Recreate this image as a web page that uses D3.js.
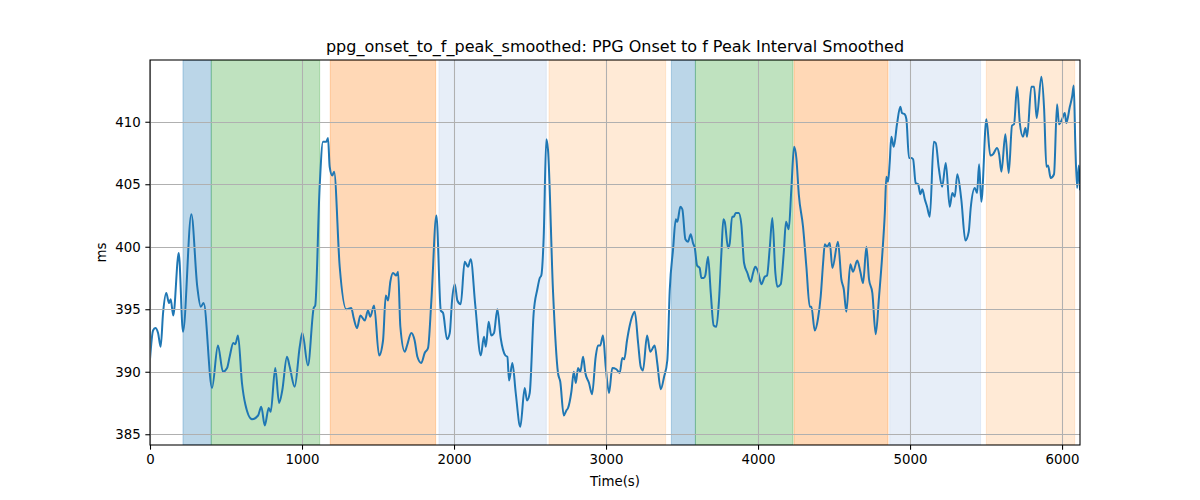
<!DOCTYPE html>
<html>
<head>
<meta charset="utf-8">
<script src="https://cdn.jsdelivr.net/npm/d3@7"></script>
<style>
  html, body { margin: 0; padding: 0; background: #ffffff; }
  svg { display: block; font-family: "DejaVu Sans", sans-serif; }
</style>
</head>
<body>
<svg id="chart" width="1200" height="500"></svg>
<script>
const times = [0,20,35,53,70,86,107,125,136,153,189,217,272,311,334,353,408,447,480,507,524,548,561,579,605,627,671,711,732,755,781,794,824,849,870,901,919,952,985,1002,1039,1077,1087,1116,1138,1160,1171,1182,1199,1211,1248,1291,1324,1340,1362,1384,1413,1434,1449,1474,1507,1533,1551,1566,1581,1599,1620,1632,1647,1676,1691,1719,1741,1759,1785,1807,1829,1851,1884,1913,1928,1954,1972,1987,2005,2022,2044,2070,2092,2110,2140,2176,2197,2209,2228,2245,2263,2285,2307,2338,2351,2362,2384,2406,2436,2465,2480,2498,2524,2548,2564,2574,2590,2607,2618,2651,2684,2699,2722,2739,2750,2772,2788,2801,2816,2831,2849,2864,2888,2908,2932,2947,2962,2980,2998,3020,3041,3068,3090,3107,3120,3138,3156,3171,3189,3211,3228,3243,3270,3291,3320,3337,3360,3382,3403,3419,3441,3459,3469,3489,3502,3522,3539,3557,3572,3584,3599,3616,3627,3643,3653,3671,3689,3708,3726,3743,3759,3772,3781,3803,3814,3829,3840,3853,3873,3890,3908,3930,3952,3967,3982,4000,4022,4044,4059,4077,4094,4114,4127,4149,4169,4184,4202,4219,4237,4252,4268,4296,4318,4340,4351,4373,4395,4412,4428,4439,4454,4472,4489,4526,4548,4564,4581,4607,4625,4653,4673,4691,4713,4730,4752,4774,4796,4818,4834,4844,4855,4866,4877,4893,4914,4936,4947,4965,4976,4993,5009,5020,5037,5053,5068,5081,5097,5112,5130,5156,5169,5189,5211,5235,5261,5278,5294,5311,5337,5364,5386,5399,5426,5441,5454,5469,5502,5528,5546,5572,5586,5601,5627,5649,5671,5684,5704,5722,5743,5759,5770,5798,5816,5833,5864,5882,5897,5908,5925,5947,5967,5980,6000,6018,6028,6051,6066,6077,6087,6099,6110,6118];
const values = [391.0,393.3,393.5,393.1,392.0,394.7,396.3,395.5,395.8,394.5,399.5,393.2,402.6,396.8,395.2,395.5,388.7,392.1,390.0,390.3,391.2,392.3,392.2,392.9,389.1,387.4,386.2,386.5,387.2,385.7,387.1,386.8,390.3,387.5,388.5,391.2,390.4,388.8,392.0,393.1,390.5,395.1,395.3,404.8,408.4,408.4,408.7,406.4,405.7,406.0,398.4,395.0,395.1,394.3,393.5,394.5,394.1,394.9,394.4,395.3,391.3,392.5,396.1,395.7,397.2,397.9,397.7,398.0,393.6,391.6,392.1,393.1,392.5,391.2,390.7,391.5,391.9,395.7,402.5,394.9,394.7,392.6,393.1,395.7,397.0,395.7,395.4,398.8,398.4,399.0,395.3,391.3,392.8,392.0,394.0,392.9,393.1,395.0,392.7,391.3,391.2,389.3,390.7,388.3,385.6,388.7,387.7,388.3,394.7,396.6,397.5,397.7,400.8,408.6,407.8,396.5,389.9,389.2,386.5,386.9,387.1,388.4,390.0,389.1,390.3,390.0,391.2,389.9,389.1,388.2,391.2,392.1,392.1,392.9,390.4,388.3,390.3,390.2,389.9,391.1,391.0,392.5,393.7,394.4,394.8,392.3,390.4,390.1,392.9,391.6,392.1,390.7,388.6,389.6,390.9,396.5,399.8,402.2,402.0,403.2,403.0,400.6,400.4,401.0,400.3,399.9,398.5,398.3,397.5,397.5,397.7,399.2,396.3,393.7,393.6,395.7,399.5,402.2,402.0,399.9,400.3,402.4,402.4,402.7,402.7,401.8,398.7,397.9,397.2,397.9,398.4,398.0,397.0,397.6,397.7,399.9,402.3,397.9,396.8,397.0,399.5,402.0,401.4,404.6,408.0,407.1,404.2,401.6,398.4,395.2,395.2,393.3,394.3,396.0,398.7,400.2,400.0,400.3,398.3,400.4,397.4,396.6,394.8,398.6,398.0,398.9,398.0,397.1,400.0,397.4,396.3,393.0,396.0,399.5,402.7,405.6,405.2,406.7,408.8,408.0,409.8,411.2,410.7,410.6,410.2,407.1,407.1,407.0,405.1,405.0,404.2,404.6,403.8,403.2,402.4,408.4,408.3,406.3,404.8,406.7,403.2,404.3,404.0,405.8,403.8,400.5,401.2,403.1,404.7,404.3,406.6,403.6,410.2,407.3,407.4,407.9,407.4,406.0,409.0,405.9,409.7,409.8,412.8,409.9,408.8,409.5,408.8,412.8,412.8,410.3,413.6,411.0,406.4,406.5,405.5,405.8,411.4,409.8,410.2,410.7,409.9,411.2,412.0,412.9,408.3,404.7,406.5,404.6];

const spanStarts = [217, 403, 1186, 1901, 2625, 3430, 3588, 4237, 4866, 5502];
const spanEnds   = [403, 1116, 1879, 2607, 3392, 3588, 4230, 4855, 5464, 6083];
const spanColors = ["#1f77b4", "#2ca02c", "#ff7f0e", "#aec7e8", "#ffbb78", "#1f77b4", "#2ca02c", "#ff7f0e", "#aec7e8", "#ffbb78"];

const xTicks = [0, 1000, 2000, 3000, 4000, 5000, 6000];
const yTicks = [385, 390, 395, 400, 405, 410];

const titleText = "ppg_onset_to_f_peak_smoothed: PPG Onset to f Peak Interval Smoothed";
const xLabel = "Time(s)";
const yLabel = "ms";

const svg = d3.select("#chart");
const L = 150, R = 1080, T = 60, B = 445;

const x = d3.scaleLinear().domain([0, 6118]).range([L, R]);
const y = d3.scaleLinear().domain([384.14, 414.94]).range([B, T]);

svg.append("rect").attr("width", 1200).attr("height", 500).attr("fill", "#fff");

svg.append("defs").append("clipPath").attr("id", "clip")
  .append("rect").attr("x", L).attr("y", T).attr("width", R - L).attr("height", B - T);

const plot = svg.append("g").attr("clip-path", "url(#clip)");

// spans
plot.selectAll("rect.span")
  .data(spanStarts.map((s, i) => ({ s, e: spanEnds[i], c: spanColors[i] })))
  .enter().append("rect")
  .attr("class", "span")
  .attr("x", d => x(d.s))
  .attr("y", T)
  .attr("width", d => x(d.e) - x(d.s))
  .attr("height", B - T)
  .attr("fill", d => d.c)
  .attr("fill-opacity", 0.3)
  .attr("stroke", d => d.c)
  .attr("stroke-opacity", 0.3)
  .attr("stroke-width", 1);

// grid
const grid = svg.append("g");
xTicks.forEach(t => {
  grid.append("line")
    .attr("x1", Math.round(x(t)) + 0.5).attr("x2", Math.round(x(t)) + 0.5)
    .attr("y1", T).attr("y2", B)
    .attr("stroke", "#b0b0b0").attr("stroke-width", 1.07);
});
yTicks.forEach(t => {
  grid.append("line")
    .attr("x1", L).attr("x2", R)
    .attr("y1", Math.round(y(t)) + 0.5).attr("y2", Math.round(y(t)) + 0.5)
    .attr("stroke", "#b0b0b0").attr("stroke-width", 1.07);
});

// line
const line = d3.line().x((d, i) => x(times[i])).y(d => y(d)).curve(d3.curveMonotoneX);
plot.append("path")
  .attr("d", line(values))
  .attr("fill", "none")
  .attr("stroke", "#1f77b4")
  .attr("stroke-width", 2)
  .attr("stroke-linejoin", "round")
  .attr("stroke-linecap", "square");

// frame
svg.append("rect")
  .attr("x", L).attr("y", T).attr("width", R - L).attr("height", B - T)
  .attr("fill", "none").attr("stroke", "#000").attr("stroke-width", 1.07);

// axes
const xAxis = d3.axisBottom(x).tickValues(xTicks).tickSize(4.67).tickPadding(4.67).tickFormat(d3.format("d"));
const gx = svg.append("g").attr("transform", `translate(0,${B})`).call(xAxis);
gx.select(".domain").remove();
gx.selectAll("line").attr("stroke", "#000").attr("stroke-width", 1.07);
gx.selectAll("text").attr("font-size", "13.33px").attr("fill", "#000").attr("font-family", "DejaVu Sans");

const yAxis = d3.axisLeft(y).tickValues(yTicks).tickSize(4.67).tickPadding(4.67).tickFormat(d3.format("d"));
const gy = svg.append("g").attr("transform", `translate(${L},0)`).call(yAxis);
gy.select(".domain").remove();
gy.selectAll("line").attr("stroke", "#000").attr("stroke-width", 1.07);
gy.selectAll("text").attr("font-size", "13.33px").attr("fill", "#000").attr("font-family", "DejaVu Sans");

// labels
svg.append("text")
  .attr("x", (L + R) / 2).attr("y", 52)
  .attr("text-anchor", "middle")
  .attr("font-size", "16px")
  .attr("fill", "#000")
  .text(titleText);

svg.append("text")
  .attr("x", (L + R) / 2).attr("y", 486)
  .attr("text-anchor", "middle")
  .attr("font-size", "13.33px")
  .attr("fill", "#000")
  .text(xLabel);

svg.append("text")
  .attr("transform", `translate(106,${(T + B) / 2}) rotate(-90)`)
  .attr("text-anchor", "middle")
  .attr("font-size", "13.33px")
  .attr("fill", "#000")
  .text(yLabel);
</script>
</body>
</html>
